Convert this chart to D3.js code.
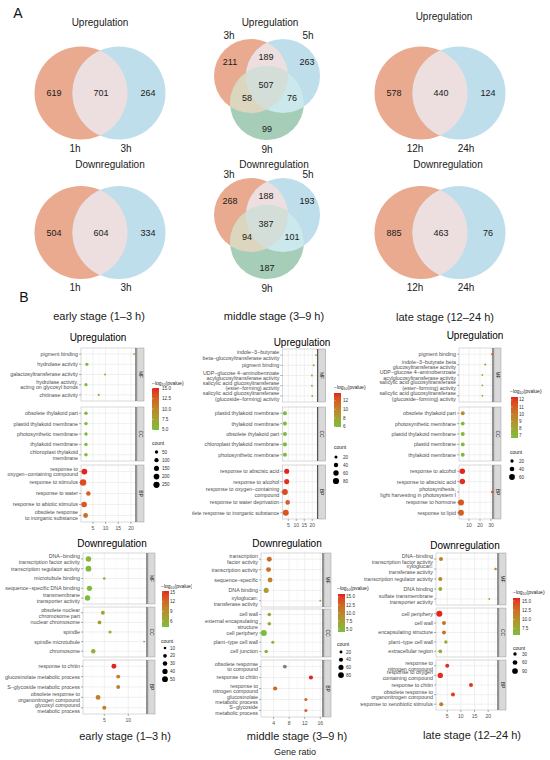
<!DOCTYPE html>
<html>
<head>
<meta charset="utf-8">
<script src="https://cdn.jsdelivr.net/npm/d3@7"></script>
<style>
  body { margin: 0; background: #fff; }
  svg { font-family: "Liberation Sans", Arial, sans-serif; }
</style>
</head>
<body>
<div id="chart"></div>
<script>
// ---------- Panel A: Venn counts ----------
const vennEarlyUp = [619, 701, 264];
const vennEarlyDown = [504, 604, 334];
const vennEarlySets = ["1h", "3h"];
// order: 3h only, 3h∩5h, 5h only, 3h∩9h, all, 5h∩9h, 9h only
const vennMidUp = [211, 189, 263, 58, 507, 76, 99];
const vennMidDown = [268, 188, 193, 94, 387, 101, 187];
const vennMidSets = ["3h", "5h", "9h"];
const vennLateUp = [578, 440, 124];
const vennLateDown = [885, 463, 76];
const vennLateSets = ["12h", "24h"];

// ---------- Panel B: GO enrichment (5 terms per ontology, MF / CC / BP) ----------
const ontologies = ["MF", "CC", "BP"];

const euTerms = ["pigment binding", "hydrolase activity", "galactosyltransferase activity",
  "hydrolase activity,\nacting on glycosyl bonds", "chitinase activity",
  "obsolete thylakoid part", "plastid thylakoid membrane", "photosynthetic membrane",
  "thylakoid membrane", "chloroplast thylakoid\nmembrane",
  "response to\noxygen−containing compound", "response to stimulus", "response to water",
  "response to abiotic stimulus", "obsolete response\nto inorganic substance"];
const euRatio = [21.2, 2.6, 9.8, 2.25, 7.3, 2.25, 2.25, 2.25, 2.25, 2.25, 1.6, 1.1, 3.2, 1.5, 2.1];
const euLogP = [7.0, 5.3, 5.6, 4.9, 5.6, 5.4, 5.3, 5.3, 5.3, 5.2, 15.1, 13.6, 12.6, 13.2, 11.8];
const euCount = [8, 45, 10, 45, 12, 55, 55, 55, 55, 55, 210, 265, 110, 190, 140];
const euTicks = [5, 10, 15, 20];
const euColorBreaks = [5, 7.5, 10, 12.5, 15];
const euSizeBreaks = [50, 100, 150, 200, 250];

const muTerms = ["indole−3−butyrate\nbeta−glucosyltransferase activity", "pigment binding",
  "UDP−glucose 4−aminobenzoate\nacylglucosyltransferase activity",
  "salicylic acid glucosyltransferase\n(ester−forming) activity",
  "salicylic acid glucosyltransferase\n(glucoside−forming) activity",
  "plastid thylakoid membrane", "thylakoid membrane", "obsolete thylakoid part",
  "chloroplast thylakoid membrane", "photosynthetic membrane",
  "response to abscisic acid", "response to alcohol", "response to oxygen−containing\ncompound",
  "response to water deprivation", "obsolete response to inorganic substance"];
const muRatio = [22.3, 20.9, 19.8, 19.8, 20.0, 2.9, 2.9, 2.9, 2.9, 2.9, 4.0, 4.0, 2.9, 4.6, 3.4];
const muLogP = [7.6, 7.4, 7.1, 7.1, 7.0, 5.9, 6.0, 6.0, 6.0, 6.0, 13.8, 13.5, 12.8, 12.0, 12.4];
const muCount = [8, 9, 8, 8, 8, 35, 35, 35, 35, 35, 55, 55, 70, 45, 75];
const muTicks = [5, 10, 15, 20];
const muColorBreaks = [6, 8, 10, 12];
const muSizeBreaks = [20, 40, 60, 80];

const luTerms = ["pigment binding", "indole−3−butyrate beta\nglucosyltransferase activity",
  "UDP−glucose 4−aminobenzoate\nacylglucosyltransferase activity",
  "salicylic acid glucosyltransferase\n(ester−forming) activity",
  "salicylic acid glucosyltransferase\n(glucoside−forming) activity",
  "obsolete thylakoid part", "photosynthetic membrane", "plastid thylakoid membrane",
  "plastid membrane", "thylakoid membrane",
  "response to alcohol", "response to abscisic acid",
  "photosynthesis,\nlight harvesting in photosystem I", "response to hormone", "response to lipid"];
const luRatio = [31.2, 24.8, 22.1, 22.1, 22.1, 4.3, 4.3, 4.3, 4.3, 4.3, 3.9, 3.9, 31.2, 2.7, 2.7];
const luLogP = [11.2, 8.3, 7.6, 7.6, 7.6, 9.3, 7.2, 7.1, 7.0, 6.7, 12.4, 12.2, 11.6, 11.3, 11.0];
const luCount = [10, 8, 7, 7, 7, 28, 28, 28, 28, 28, 55, 55, 12, 65, 62];
const luTicks = [10, 20, 30];
const luColorBreaks = [7, 8, 9, 10, 11, 12];
const luSizeBreaks = [20, 40, 60];

const edTerms = ["DNA−binding\ntranscription factor activity", "transcription regulator activity",
  "microtubule binding", "sequence−specific DNA binding", "transmembrane\ntransporter activity",
  "obsolete nuclear\nchromosome part", "nuclear chromosome", "spindle", "spindle microtubule", "chromosome",
  "response to chitin", "glucosinolate metabolic process", "S−glycoside metabolic process",
  "obsolete response to\norganonitrogen compound", "glycosyl compound\nmetabolic process"];
const edRatio = [1.7, 1.7, 5.0, 1.9, 1.5, 4.7, 4.0, 6.2, 13.3, 2.7, 7.0, 7.9, 7.9, 3.7, 5.0];
const edLogP = [5.0, 4.8, 5.5, 4.6, 4.2, 7.3, 7.5, 5.8, 7.2, 5.5, 15.3, 10.5, 10.5, 10.2, 10.3];
const edCount = [45, 50, 10, 40, 45, 22, 22, 15, 5, 30, 35, 22, 22, 35, 25];
const edTicks = [5, 10];
const edColorBreaks = [6, 9, 12, 15];
const edSizeBreaks = [10, 20, 30, 40, 50];

const mdTerms = ["transcription\nfactor activity", "transcription activity", "sequence−specific",
  "DNA binding", "xyloglucan:\ntransferase activity",
  "cell wall", "external encapsulating\nstructure", "cell periphery", "plant−type cell wall", "cell junction",
  "obsolete response\nto compound", "response to chitin", "response to\nnitrogen compound",
  "glucosinolate\nmetabolic process", "S−glycoside\nmetabolic process"];
const mdRatio = [2.9, 2.7, 3.1, 2.1, 16.0, 2.9, 2.9, 1.5, 3.8, 2.1, 6.9, 13.6, 4.4, 12.3, 12.3];
const mdLogP = [12.2, 12.0, 10.3, 7.8, 5.6, 6.3, 6.3, 4.1, 5.6, 5.8, null, 15.9, 12.6, 12.4, 12.4];
const mdCount = [58, 58, 55, 60, 8, 30, 30, 85, 22, 30, 35, 40, 40, 22, 22];
const mdTicks = [4, 8, 12, 16];
const mdColorBreaks = [5, 7.5, 10, 12.5, 15];
const mdSizeBreaks = [20, 40, 60, 80];

const ldTerms = ["DNA−binding\ntranscription factor activity", "xyloglucan:\ntransferase activity",
  "transcription regulator activity", "DNA binding", "sulfate transmembrane\ntransporter activity",
  "cell periphery", "cell wall", "encapsulating structure", "plant−type cell wall", "extracellular region",
  "response to\nnitrogen compound", "response to oxygen\ncontaining compound", "response to chitin",
  "obsolete response to\norganonitrogen compound", "response to xenobiotic stimulus"];
const ldRatio = [2.7, 22.7, 2.45, 2.45, 20.4, 2.1, 3.8, 3.8, 4.5, 2.45, 5.0, 2.45, 13.7, 7.1, 2.8];
const ldLogP = [11.0, 10.6, 10.8, 8.0, 5.8, 15.8, 12.6, 12.4, 7.8, 7.6, 15.5, 15.6, 15.3, 15.0, 11.2];
const ldCount = [45, 15, 45, 38, 8, 100, 42, 42, 30, 38, 42, 80, 42, 42, 45];
const ldTicks = [5, 10, 15, 20];
const ldColorBreaks = [7.5, 10, 12.5, 15];
const ldSizeBreaks = [30, 60, 90];

// colours
const LOW = "#78BE3C", HIGH = "#E4221E", NA_COL = "#7F7F7F";
const vennCol = {o: "#E9AA8F", b: "#BFDEEC", g: "#A5CDB8", ob: "#EDDFDF", og: "#DDD6BF", bg: "#CBE8EC", obg: "#D4DED8"};

const svg = d3.select("#chart").append("svg")
  .attr("width", 550)
  .attr("height", 760);

let uid = 0;

function label(x, y, txt, size, anchor, fill) {
  return svg.append("text")
    .attr("x", x).attr("y", y + size * 0.35)
    .attr("font-size", size)
    .attr("text-anchor", anchor || "middle")
    .attr("fill", fill || "#1a1a1a")
    .text(txt);
}

function clipCircle(cx, cy, r) {
  const id = "cc" + (uid++);
  svg.append("clipPath").attr("id", id)
    .append("circle").attr("cx", cx).attr("cy", cy).attr("r", r);
  return `url(#${id})`;
}

// two-set Venn
function venn2(cx, cy, counts, sets) {
  const r = 46.5, d = 19;
  const g = svg.append("g");
  g.append("circle").attr("cx", cx - d).attr("cy", cy).attr("r", r).attr("fill", vennCol.o);
  g.append("circle").attr("cx", cx + d).attr("cy", cy).attr("r", r).attr("fill", vennCol.b);
  g.append("circle").attr("cx", cx + d).attr("cy", cy).attr("r", r).attr("fill", vennCol.ob)
    .attr("clip-path", clipCircle(cx - d, cy, r));
  label(cx - 46, cy, counts[0], 9);
  label(cx + 1, cy, counts[1], 9);
  label(cx + 48, cy, counts[2], 9);
  label(cx - 25, cy + 55, sets[0], 10);
  label(cx + 26, cy + 55, sets[1], 10);
}

// three-set Venn
function venn3(cx, cy, counts, sets) {
  const r = 37, d = 16, h = 27;
  const o = [cx - d, cy], b = [cx + d, cy], gr = [cx, cy + h];
  const g = svg.append("g");
  g.append("circle").attr("cx", o[0]).attr("cy", o[1]).attr("r", r).attr("fill", vennCol.o);
  g.append("circle").attr("cx", b[0]).attr("cy", b[1]).attr("r", r).attr("fill", vennCol.b);
  g.append("circle").attr("cx", gr[0]).attr("cy", gr[1]).attr("r", r).attr("fill", vennCol.g);
  const clipO = clipCircle(o[0], o[1], r), clipB = clipCircle(b[0], b[1], r);
  g.append("circle").attr("cx", b[0]).attr("cy", b[1]).attr("r", r).attr("fill", vennCol.ob).attr("clip-path", clipO);
  g.append("circle").attr("cx", gr[0]).attr("cy", gr[1]).attr("r", r).attr("fill", vennCol.og).attr("clip-path", clipO);
  g.append("circle").attr("cx", gr[0]).attr("cy", gr[1]).attr("r", r).attr("fill", vennCol.bg).attr("clip-path", clipB);
  g.append("g").attr("clip-path", clipO)
    .append("circle").attr("cx", gr[0]).attr("cy", gr[1]).attr("r", r).attr("fill", vennCol.obg).attr("clip-path", clipB);
  const pos = [[-37, -14], [-1, -19], [40, -14], [-20, 22], [-1, 9], [25, 22], [0, 53]];
  counts.forEach((c, i) => label(cx + pos[i][0], cy + pos[i][1], c, 9));
  label(cx - 38, cy - 41, sets[0], 10);
  label(cx + 41, cy - 41, sets[1], 10);
  label(cx, cy + 73, sets[2], 10);
}

// ---------- Panel A ----------
label(18, 13, "A", 14, "middle", "#111");
label(100, 22, "Upregulation", 10);
label(270, 22, "Upregulation", 10);
label(444, 16, "Upregulation", 10);
venn2(100, 93, vennEarlyUp, vennEarlySets);
venn3(267, 76, vennMidUp, vennMidSets);
venn2(440, 93, vennLateUp, vennLateSets);

label(110, 164, "Downregulation", 10);
label(274, 164, "Downregulation", 10);
label(448, 164, "Downregulation", 10);
venn2(100, 232.5, vennEarlyDown, vennEarlySets);
venn3(267, 215, vennMidDown, vennMidSets);
venn2(440, 232.5, vennLateDown, vennLateSets);

// ---------- Panel B ----------
label(24, 297, "B", 14, "middle", "#111");
label(99, 316, "early stage (1–3 h)", 11);
label(274, 316, "middle stage (3–9 h)", 11);
label(445, 317, "late stage (12–24 h)", 11);
label(125, 736, "early stage (1–3 h)", 11);
label(297, 736, "middle stage (3–9 h)", 11);
label(472, 735, "late stage (12–24 h)", 11);
label(295, 752, "Gene ratio", 9);

function dotPlot(L, terms, ratio, logp, count, xTicks, colorBreaks, sizeBreaks) {
  const clipId = "clip" + (uid++);
  svg.append("clipPath").attr("id", clipId).append("rect")
    .attr("x", L.clip[0]).attr("y", L.clipY[0])
    .attr("width", L.clip[1] - L.clip[0]).attr("height", L.clipY[1] - L.clipY[0]);
  const g = svg.append("g").attr("clip-path", `url(#${clipId})`);

  const data = terms.map((t, i) => ({
    term: t, ratio: ratio[i], p: logp[i], n: count[i], ont: ontologies[Math.floor(i / 5)]
  }));

  const x = d3.scaleLinear().domain(L.xdom).range([L.x0, L.x1]);
  const pExt = d3.extent(logp.filter(v => v != null));
  const color = d3.scaleLinear().domain(pExt).range([LOW, HIGH]).interpolate(d3.interpolateLab);
  const size = d3.scaleSqrt().domain(d3.extent(count)).range([0.95, L.rmax]);

  const step = xTicks.length > 1 ? xTicks[1] - xTicks[0] : 5;
  const minors = xTicks.map(t => t - step / 2)
    .concat([xTicks[xTicks.length - 1] + step / 2])
    .filter(v => v > L.xdom[0] && v < L.xdom[1]);

  // title
  g.append("text")
    .attr("x", L.tx).attr("y", L.ty + 3.5)
    .attr("text-anchor", "middle").attr("font-size", 10).attr("fill", "#000")
    .text(L.title);

  ontologies.forEach((ont, k) => {
    const [p0, p1] = L.panels[k];
    const sub = data.filter(d => d.ont === ont);
    const y = d3.scalePoint().domain(sub.map(d => d.term)).range([p0, p1]).padding(0.6);
    const pg = g.append("g");

    pg.append("rect").attr("x", L.x0).attr("y", p0)
      .attr("width", L.x1 - L.x0).attr("height", p1 - p0).attr("fill", "#fff");
    pg.selectAll(".minor").data(minors).join("line")
      .attr("x1", d => x(d)).attr("x2", d => x(d)).attr("y1", p0).attr("y2", p1)
      .attr("stroke", "#F2F2F2").attr("stroke-width", 0.4);
    pg.selectAll(".major").data(xTicks).join("line")
      .attr("x1", d => x(d)).attr("x2", d => x(d)).attr("y1", p0).attr("y2", p1)
      .attr("stroke", "#E6E6E6").attr("stroke-width", 0.6);
    pg.selectAll(".hgrid").data(sub).join("line")
      .attr("x1", L.x0).attr("x2", L.x1).attr("y1", d => y(d.term)).attr("y2", d => y(d.term))
      .attr("stroke", "#E6E6E6").attr("stroke-width", 0.6);
    pg.append("rect").attr("x", L.x0).attr("y", p0)
      .attr("width", L.x1 - L.x0).attr("height", p1 - p0)
      .attr("fill", "none").attr("stroke", "#B5B5B5").attr("stroke-width", 0.5);
    pg.append("line").attr("x1", L.x1).attr("x2", L.x1).attr("y1", p0).attr("y2", p1)
      .attr("stroke", "#222").attr("stroke-width", 0.9);

    // facet strip
    pg.append("rect").attr("x", L.x1 + 1).attr("y", p0)
      .attr("width", 7).attr("height", p1 - p0)
      .attr("fill", "#D9D9D9").attr("stroke", "#9A9A9A").attr("stroke-width", 0.5);
    pg.append("text")
      .attr("transform", `translate(${L.x1 + 4.5},${(p0 + p1) / 2}) rotate(90)`)
      .attr("text-anchor", "middle").attr("dy", "0.35em")
      .attr("font-size", 5).attr("fill", "#1a1a1a")
      .text(ont);

    // y axis ticks and labels
    pg.selectAll(".ytick").data(sub).join("line")
      .attr("x1", L.x0 - 2).attr("x2", L.x0).attr("y1", d => y(d.term)).attr("y2", d => y(d.term))
      .attr("stroke", "#333").attr("stroke-width", 0.4);
    sub.forEach(d => {
      const lines = d.term.split("\n");
      const t = pg.append("text").attr("text-anchor", "end")
        .attr("font-size", 5.3).attr("fill", "#4D4D4D");
      lines.forEach((ln, i) => {
        t.append("tspan").attr("x", L.x0 - 3)
          .attr("y", y(d.term) + (i - (lines.length - 1) / 2) * 5.7 + 1.9)
          .text(ln);
      });
    });

    // points
    pg.selectAll(".pt").data(sub).join("circle")
      .attr("cx", d => x(d.ratio)).attr("cy", d => y(d.term))
      .attr("r", d => size(d.n))
      .attr("fill", d => d.p == null ? NA_COL : color(d.p));
  });

  // x axis
  const yb = L.panels[2][1];
  g.selectAll(".xtick").data(xTicks).join("line")
    .attr("x1", d => x(d)).attr("x2", d => x(d)).attr("y1", yb).attr("y2", yb + 2)
    .attr("stroke", "#333").attr("stroke-width", 0.4);
  g.selectAll(".xlab").data(xTicks).join("text")
    .attr("x", d => x(d)).attr("y", yb + 7.5)
    .attr("text-anchor", "middle").attr("font-size", 5).attr("fill", "#4D4D4D")
    .text(d => d);

  // colour legend
  const gid = "grad" + (uid++);
  const grad = svg.append("defs").append("linearGradient").attr("id", gid)
    .attr("x1", 0).attr("y1", 1).attr("x2", 0).attr("y2", 0);
  d3.range(11).forEach(i => {
    const v = pExt[0] + (pExt[1] - pExt[0]) * i / 10;
    grad.append("stop").attr("offset", i / 10).attr("stop-color", color(v));
  });
  const lt = g.append("text").attr("x", L.leg.tx).attr("y", L.leg.ty + 1.8)
    .attr("font-size", 5).attr("fill", "#1a1a1a");
  lt.append("tspan").text("−log");
  lt.append("tspan").attr("font-size", 3.5).attr("dy", 1.2).text("10");
  lt.append("tspan").attr("dy", -1.2).text("(pvalue)");
  g.append("rect").attr("x", L.leg.bx).attr("y", L.leg.by0)
    .attr("width", 7).attr("height", L.leg.by1 - L.leg.by0)
    .attr("fill", `url(#${gid})`);
  const barY = d3.scaleLinear().domain(pExt).range([L.leg.by1, L.leg.by0]);
  const fmt = colorBreaks.some(v => v % 1 !== 0) ? d3.format(".1f") : d3.format("d");
  g.selectAll(".cbtick").data(colorBreaks).join("line")
    .attr("x1", L.leg.bx).attr("x2", L.leg.bx + 1.5)
    .attr("y1", d => barY(d)).attr("y2", d => barY(d))
    .attr("stroke", "#fff").attr("stroke-width", 0.4);
  g.selectAll(".cblab").data(colorBreaks).join("text")
    .attr("x", L.leg.lx).attr("y", d => barY(d) + 1.6)
    .attr("font-size", 4.6).attr("fill", "#333")
    .text(d => fmt(d));

  // size legend
  g.append("text").attr("x", L.leg.tx).attr("y", L.leg.cty + 1.8)
    .attr("font-size", 5).attr("fill", "#1a1a1a").text("count");
  g.selectAll(".sz").data(sizeBreaks).join("circle")
    .attr("cx", L.leg.cx).attr("cy", (d, i) => L.leg.cy0 + i * L.leg.cstep)
    .attr("r", d => size(d)).attr("fill", "#000");
  g.selectAll(".szlab").data(sizeBreaks).join("text")
    .attr("x", L.leg.lx).attr("y", (d, i) => L.leg.cy0 + i * L.leg.cstep + 1.6)
    .attr("font-size", 4.6).attr("fill", "#333")
    .text(d => d);
}

const layoutEU = {title: "Upregulation", clip: [0, 192], clipY: [325, 535], tx: 98, ty: 337,
  x0: 81, x1: 136, xdom: [0.28, 22.0], rmax: 3.2,
  panels: [[348, 401], [407, 461], [465, 522]],
  leg: {tx: 152, ty: 383, bx: 152, by0: 388, by1: 430, lx: 162, cty: 443, cx: 156.5, cy0: 452, cstep: 8.2}};
const layoutMU = {title: "Upregulation", clip: [192, 550], clipY: [325, 535], tx: 302, ty: 342,
  x0: 282.3, x1: 317.7, xdom: [1.25, 23.4], rmax: 3.0,
  panels: [[349, 402], [407, 461], [465, 519]],
  leg: {tx: 334, ty: 387, bx: 334, by0: 393, by1: 427, lx: 343, cty: 447, cx: 336, cy0: 457, cstep: 8}};
const layoutLU = {title: "Upregulation", clip: [362, 550], clipY: [325, 535], tx: 475, ty: 335,
  x0: 459, x1: 493, xdom: [0.9, 31.8], rmax: 3.0,
  panels: [[348, 402], [407, 461], [465, 519]],
  leg: {tx: 510, ty: 391, bx: 511, by0: 397, by1: 438, lx: 519, cty: 452, cx: 512, cy0: 461, cstep: 8}};
const layoutED = {title: "Downregulation", clip: [0, 192], clipY: [530, 726], tx: 112, ty: 543,
  x0: 83, x1: 147, xdom: [0.56, 13.9], rmax: 2.9,
  panels: [[553, 604], [607, 657], [660, 714]],
  leg: {tx: 161, ty: 586, bx: 162, by0: 591, by1: 627, lx: 170, cty: 641, cx: 165, cy0: 648, cstep: 7.8}};
const layoutMD = {title: "Downregulation", clip: [192, 550], clipY: [530, 726], tx: 287, ty: 543,
  x0: 261, x1: 323, xdom: [0.77, 16.7], rmax: 3.0,
  panels: [[553, 607], [609, 657], [660, 717]],
  leg: {tx: 337, ty: 588, bx: 338, by0: 594, by1: 632, lx: 346, cty: 644, cx: 341, cy0: 652, cstep: 7.7}};
const layoutLD = {title: "Downregulation", clip: [360, 550], clipY: [530, 726], tx: 465, ty: 545,
  x0: 436, x1: 498, xdom: [0.88, 23.6], rmax: 3.0,
  panels: [[553, 605], [608, 657], [660, 710]],
  leg: {tx: 513, ty: 592, bx: 513, by0: 598, by1: 635, lx: 522, cty: 648, cx: 515, cy0: 654, cstep: 8.5}};

dotPlot(layoutEU, euTerms, euRatio, euLogP, euCount, euTicks, euColorBreaks, euSizeBreaks);
dotPlot(layoutMU, muTerms, muRatio, muLogP, muCount, muTicks, muColorBreaks, muSizeBreaks);
dotPlot(layoutLU, luTerms, luRatio, luLogP, luCount, luTicks, luColorBreaks, luSizeBreaks);
dotPlot(layoutED, edTerms, edRatio, edLogP, edCount, edTicks, edColorBreaks, edSizeBreaks);
dotPlot(layoutMD, mdTerms, mdRatio, mdLogP, mdCount, mdTicks, mdColorBreaks, mdSizeBreaks);
dotPlot(layoutLD, ldTerms, ldRatio, ldLogP, ldCount, ldTicks, ldColorBreaks, ldSizeBreaks);
</script>
</body>
</html>
